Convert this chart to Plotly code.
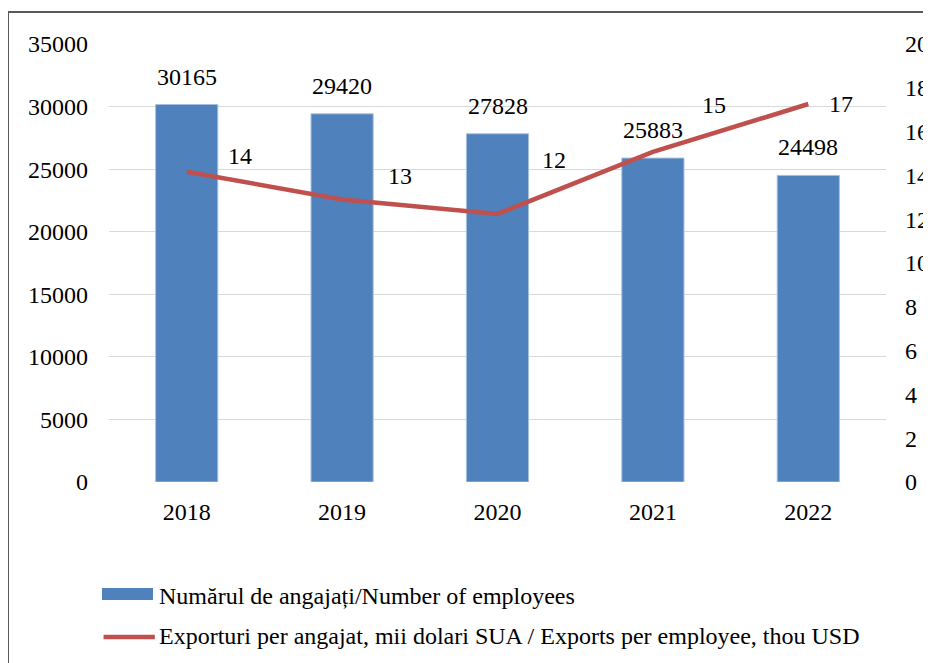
import plotly.graph_objects as go

years = ["2018", "2019", "2020", "2021", "2022"]
employees = [30165, 29420, 27828, 25883, 24498]
exports_per_employee = [14.17, 12.9, 12.24, 15.07, 17.26]
export_labels = ["14", "13", "12", "15", "17"]
# label offsets (pixels) for the line data labels
label_dx = [53, 58, 56, 61, 33]
label_dy = [16, 23, 54, 47, 0]

name_bar = "Numărul de angajați/Number of employees"
name_line = "Exporturi per angajat, mii dolari SUA / Exports per employee, thou USD"

FONT = "Liberation Serif"
BLUE = "#4F81BD"
RED = "#C0504D"
FS = 24

fig = go.Figure()
fig.add_trace(go.Bar(x=years, y=employees, name=name_bar, marker=dict(color=BLUE, line=dict(color="#A7BFDE", width=1)),
                     yaxis="y", showlegend=False))
fig.add_trace(go.Scatter(x=years, y=exports_per_employee, name=name_line, mode="lines",
                         line=dict(color=RED, width=4.5), yaxis="y2", showlegend=False))

ann = []
for i, v in enumerate(employees):
    ann.append(dict(x=i, y=v, xref="x", yref="y", text=str(v), showarrow=False,
                    yanchor="bottom", yshift=13, font=dict(family=FONT, size=FS, color="#000")))
for i, (v, t, dx, dy) in enumerate(zip(exports_per_employee, export_labels, label_dx, label_dy)):
    ann.append(dict(x=i, y=v, xref="x", yref="y2", text=t, showarrow=False,
                    xshift=dx, yshift=dy, font=dict(family=FONT, size=FS, color="#000")))

# legend (drawn manually to match the wide swatches)
ann.append(dict(x=0.062, y=-0.260, xref="paper", yref="paper", text=name_bar, showarrow=False,
                xanchor="left", yanchor="middle", font=dict(family=FONT, size=FS, color="#000")))
ann.append(dict(x=0.062, y=-0.352, xref="paper", yref="paper", text=name_line, showarrow=False,
                xanchor="left", yanchor="middle", font=dict(family=FONT, size=FS, color="#000")))

shapes = [
    dict(type="rect", xref="paper", yref="paper", x0=-0.13, x1=1.3, y0=-0.6, y1=1.073,
         line=dict(color="#595959", width=2), fillcolor="rgba(0,0,0,0)", layer="below"),
    dict(type="rect", xref="paper", yref="paper", x0=-0.009, x1=0.0566, y0=-0.2694, y1=-0.242,
         line=dict(width=0), fillcolor=BLUE),
    dict(type="line", xref="paper", yref="paper", x0=-0.007, x1=0.059, y0=-0.354, y1=-0.354,
         line=dict(color=RED, width=4.5)),
]

# the page has an 8px body margin, so the figure is drawn 8px in from the top-left
fig.update_layout(
    width=923, height=655,
    margin=dict(l=101, r=45, t=36, b=181),
    paper_bgcolor="white", plot_bgcolor="white",
    bargap=0.6,
    font=dict(family=FONT, size=FS, color="#000"),
    xaxis=dict(type="category", range=[-0.5, 4.5], showgrid=False, showline=False, ticks="",
               ticklabelstandoff=13, automargin=False,
               tickfont=dict(family=FONT, size=FS, color="#000")),
    yaxis=dict(range=[0, 35000], dtick=5000, tickformat="d", showgrid=True, gridcolor="#D9D9D9", gridwidth=1,
               zeroline=False, showline=False, ticks="", ticklabelstandoff=20, automargin=False,
               tickfont=dict(family=FONT, size=FS, color="#000")),
    yaxis2=dict(range=[0, 20], dtick=2, overlaying="y", side="right", showgrid=False,
                zeroline=False, showline=False, ticks="", ticklabelstandoff=18, automargin=False,
                tickfont=dict(family=FONT, size=FS, color="#000")),
    annotations=ann,
    shapes=shapes,
    showlegend=False,
)

fig.write_html("out.html")
